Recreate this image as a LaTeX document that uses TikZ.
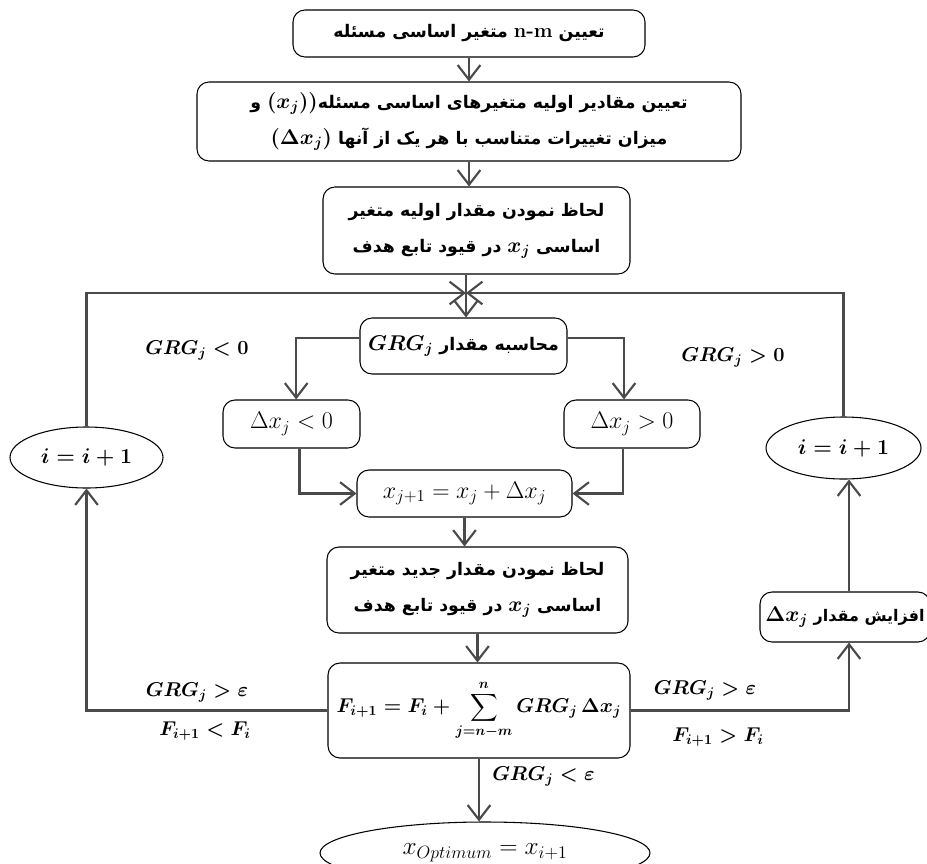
\RequirePackage{fix-cm}
\documentclass[tikz,border=0pt]{standalone}
\usepackage{amsmath}
\usepackage{fontspec}
\TeXXeTstate=1
\newfontfamily\arabicfont[Script=Arabic]{DejaVu Sans}
\usetikzlibrary{arrows.meta,shapes.geometric,calc}
\definecolor{linegray}{HTML}{4A4A4A}
\newcommand{\inmath}[1]{{\fontsize{16}{18}\selectfont$#1$}}
\tikzset{
  box/.style={draw=black, line width=0.8pt, rounded corners=9pt, align=center, inner sep=0pt,
    font=\fontsize{13}{27}\selectfont\arabicfont\bfseries\boldmath},
  mbox/.style={draw=black, line width=0.8pt, rounded corners=9pt, align=center, inner sep=0pt,
    font=\fontsize{18}{20}\selectfont},
  ell/.style={draw=black, ellipse, line width=0.8pt, inner sep=0pt, align=center},
  lbl/.style={inner sep=0pt, font=\fontsize{15}{18}\selectfont\boldmath},
  arr/.style={draw=linegray, line width=1.8pt, rounded corners=0pt,
    -{Straight Barb[length=11pt,width=17pt,line width=1.6pt]}},
}
\begin{document}
\begin{tikzpicture}[x=0.75pt,y=-0.75pt]
\useasboundingbox (0,0) rectangle (927,863);

% boxes
\node[box, minimum width=264pt, minimum height=35.25pt] (b1) at (469,33.5)
  {\beginR تعیین \beginL{\rmfamily\bfseries\fontsize{15}{18}\selectfont n-m}\endL{} متغیر اساسی مسئله\endR};
\node[box, minimum width=408pt, minimum height=59.25pt] (b2) at (469,121.5)
  {\beginR تعیین مقادیر اولیه متغیرهای اساسی مسئله\beginL\inmath{(x_j))}\endL{} و\endR\\
   \beginR میزان تغییرات متناسب با هر یک از آنها \beginL\inmath{(\Delta x_j)}\endL\endR};
\node[box, minimum width=230.25pt, minimum height=65.25pt] (b3) at (476.5,230.5)
  {\beginR لحاظ نمودن مقدار اولیه متغیر\endR\\
   \beginR اساسی \beginL\inmath{x_j}\endL{} در قیود تابع هدف\endR};
\node[box, minimum width=155.25pt, minimum height=42pt] (grg) at (463.5,346)
  {\beginR محاسبه مقدار \beginL\inmath{GRG_j}\endL\endR};
\node[mbox, minimum width=102.75pt, minimum height=36pt] (dxn) at (291.5,424)
  {$\Delta x_j < 0$};
\node[mbox, minimum width=102pt, minimum height=36pt] (dxp) at (632,424)
  {$\Delta x_j > 0$};
\node[mbox, minimum width=161.25pt, minimum height=35.25pt] (xj1) at (464.5,493.5)
  {$x_{j+1} = x_j + \Delta x_j$};
\node[box, minimum width=225.75pt, minimum height=64.5pt] (b4) at (477.5,590)
  {\beginR لحاظ نمودن مقدار جدید متغیر\endR\\
   \beginR اساسی \beginL\inmath{x_j}\endL{} در قیود تابع هدف\endR};
\node[mbox, minimum width=226.5pt, minimum height=71.25pt, font=\fontsize{15}{18}\selectfont\boldmath] (F) at (479,710.5)
  {$\displaystyle F_{i+1} = F_i + \sum_{j=n-m}^{n} GRG_j\,\Delta x_j$};
\node[box, minimum width=127.5pt, minimum height=37.5pt, font=\fontsize{12}{16}\selectfont\arabicfont\bfseries\boldmath] (afz) at (845,617)
  {\beginR افزایش مقدار \beginL\inmath{\Delta x_j}\endL\endR};

% ellipses
\node[ell, minimum width=114.75pt, minimum height=45.75pt, font=\fontsize{16}{18}\selectfont\boldmath] (eL) at (86.5,457.5) {$i = i + 1$};
\node[ell, minimum width=116.25pt, minimum height=46.5pt, font=\fontsize{16}{18}\selectfont\boldmath] (eR) at (843.5,448) {$i = i + 1$};
\node[ell, minimum width=247.5pt, minimum height=46.5pt, font=\fontsize{19}{22}\selectfont] (opt) at (485,853) {$x_{Optimum} = x_{i+1}$};

% merge point
\coordinate (m) at (466,293);

% labels
\node[lbl] (lA) at (197,350) {$GRG_j < 0$};
\node[lbl] (lB) at (733,357) {$GRG_j > 0$};
\node[lbl] (lC) at (197,692) {$GRG_j > \varepsilon$};
\node[lbl] (lD) at (205,731) {$F_{i+1} < F_i$};
\node[lbl] (lE) at (705,690) {$GRG_j > \varepsilon$};
\node[lbl] (lF) at (718,737) {$F_{i+1} > F_i$};
\node[lbl, anchor=west] (lG) at (492,776) {$GRG_j < \varepsilon$};

% connectors
\draw[arr] (b1.south) -- (b1.south |- b2.north);
\draw[arr] (b2.south) -- (b2.south |- b3.north);
\draw[arr] (m |- b3.south) -- (m |- grg.north);
\draw[arr] (eL.north) |- (m);
\draw[arr] (eR.north) |- (m);
\draw[arr] ([yshift=6pt]grg.west) -| ([xshift=3.5pt]dxn.north);
\draw[arr] ([yshift=6pt]grg.east) -| ([xshift=-6pt]dxp.north);
\draw[arr] ([xshift=6pt]dxn.south) |- (xj1.west);
\draw[arr] ([xshift=-6.75pt]dxp.south) |- (xj1.east);
\draw[arr] (xj1.south) -- (xj1.south |- b4.north);
\draw[arr] (b4.south) -- (b4.south |- F.north);
\draw[arr] (F.south) -- (F.south |- opt.north);
\draw[arr] (F.west) -| (eL.south);
\draw[arr] (F.east) -| ([xshift=3pt]afz.south);
\draw[arr] ([xshift=3pt]afz.north) -- ([xshift=3pt]afz.north |- eR.south);
\end{tikzpicture}
\end{document}
